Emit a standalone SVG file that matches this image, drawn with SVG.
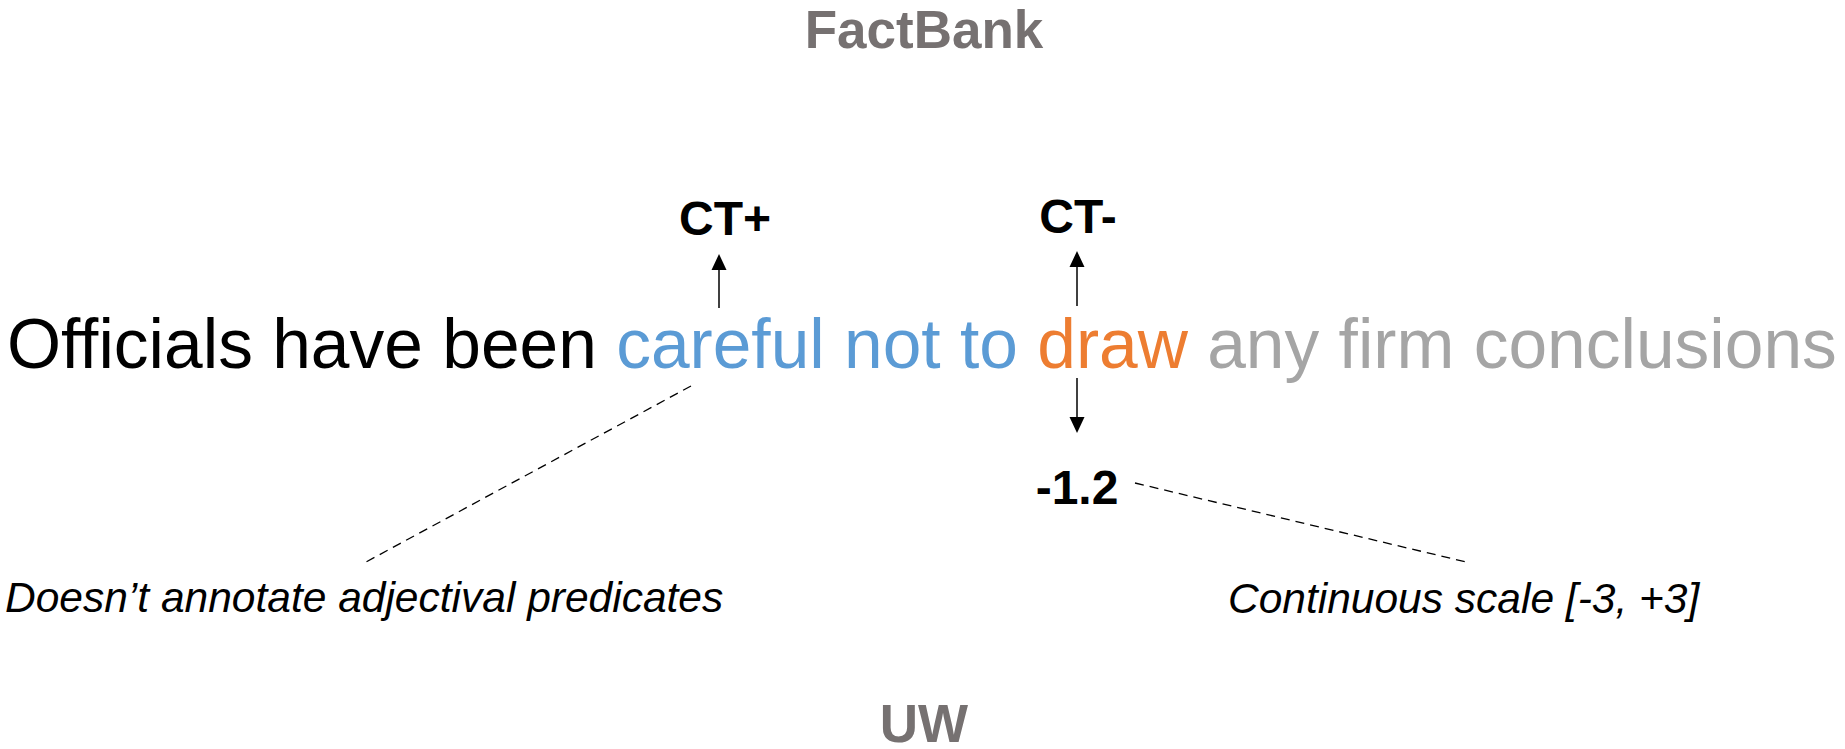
<svg xmlns="http://www.w3.org/2000/svg" width="1845" height="749" viewBox="0 0 1845 749">
  <defs>
    <style>
      .title { font-family: "Liberation Sans", Arial, sans-serif; font-weight: bold; font-size: 53px; fill: #767171; text-anchor: middle; }
      .sent { font-family: "Liberation Sans", Arial, sans-serif; font-size: 69.5px; }
      .lbl { font-family: "Liberation Sans", Arial, sans-serif; font-weight: bold; font-size: 48px; fill: #000; text-anchor: middle; }
      .note { font-family: "Liberation Sans", Arial, sans-serif; font-style: italic; font-size: 42.5px; fill: #000; }
      .shaft { stroke: #000; stroke-width: 1.5; fill: none; }
      .head { fill: #000; }
      .dash { stroke: #000; stroke-width: 1.3; fill: none; stroke-dasharray: 9 6; }
    </style>
  </defs>
  <rect x="0" y="0" width="1845" height="749" fill="#fff"/>

  <g id="title-factbank"><text class="title" x="924" y="48">FactBank</text></g>
  <g id="title-uw"><text class="title" x="924" y="742">UW</text></g>

  <g id="sentence">
    <text class="sent" x="7" y="368"><tspan fill="#000">Officials have been </tspan><tspan fill="#5B9BD5">careful not to </tspan><tspan fill="#ED7D31">draw </tspan><tspan fill="#A5A5A5">any firm conclusions</tspan></text>
  </g>

  <g id="label-ctplus"><text class="lbl" x="725" y="235">CT+</text></g>
  <g id="label-ctminus"><text class="lbl" x="1078" y="233">CT-</text></g>
  <g id="label-value"><text class="lbl" x="1077" y="504">-1.2</text></g>

  <g id="note-left"><text class="note" x="5" y="612">Doesn’t annotate adjectival predicates</text></g>
  <g id="note-right"><text class="note" x="1228" y="613">Continuous scale [-3, +3]</text></g>

  <g id="connectors">
    <line class="shaft" x1="719" y1="308" x2="719" y2="268"/>
    <path class="head" d="M711.5,270 L719,254 L726.5,270 Z"/>
    <line class="shaft" x1="1077" y1="306" x2="1077" y2="266"/>
    <path class="head" d="M1069.5,267 L1077,251 L1084.5,267 Z"/>
    <line class="shaft" x1="1077" y1="378" x2="1077" y2="418"/>
    <path class="head" d="M1069.5,417 L1077,433 L1084.5,417 Z"/>
    <line class="dash" x1="691" y1="386" x2="366" y2="562"/>
    <line class="dash" x1="1135" y1="483" x2="1466" y2="562"/>
  </g>
</svg>
